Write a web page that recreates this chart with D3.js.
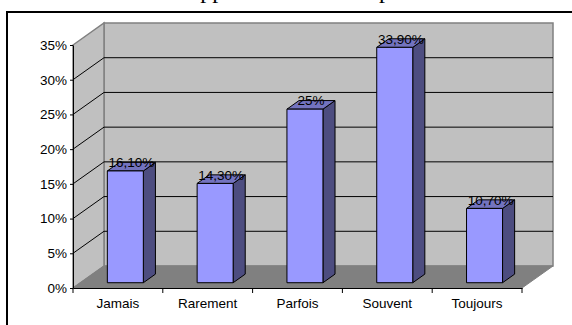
<!DOCTYPE html>
<html>
<head>
<script src="https://d3js.org/d3.v7.min.js"></script>
<style>
  body { margin: 0; background: #fff; }
  text { font-family: Arial, "Liberation Sans", sans-serif; }
</style>
</head>
<body>
<div id="chart"></div>
<script>
// data
var categories = ["Jamais", "Rarement", "Parfois", "Souvent", "Toujours"];
var values = [16.1, 14.3, 25, 33.9, 10.7];
var valueLabels = ["16,10%", "14,30%", "25%", "33,90%", "10,70%"];
var yTicks = [0, 5, 10, 15, 20, 25, 30, 35];

var W = 572, H = 325;
var plotLeft = 73, plotRight = 522, plotBottom = 288, plotTop = 45;
var depthX = 31, depthY = -22;   // full depth of the 3d box

var svg = d3.select("#chart").append("svg")
    .attr("width", W).attr("height", H);

var x = d3.scaleBand().domain(categories).range([plotLeft, plotRight]);
var y = d3.scaleLinear().domain([0, 35]).range([plotBottom, plotTop]);

// project a point on the front plane back by z (0..1)
function P(px, py, z) { return [px + z * depthX, py + z * depthY]; }
function poly(pts) { return pts.map(function(p) { return p.join(","); }).join(" "); }

// title (cut off at top of the page)
svg.append("text")
    .attr("x", 297).attr("y", -2)
    .attr("text-anchor", "middle")
    .style("font-family", '"Liberation Serif", "Times New Roman", serif')
    .style("font-size", "24px")
    .text("Apparition des crampes");

// chart frame
svg.append("rect")
    .attr("x", 7).attr("y", 12)
    .attr("width", 620).attr("height", 400)
    .attr("fill", "none").attr("stroke", "#000").attr("stroke-width", 2);

// back wall
svg.append("polygon")
    .attr("points", poly([P(plotLeft, plotTop, 1), P(plotRight, plotTop, 1), P(plotRight, plotBottom, 1), P(plotLeft, plotBottom, 1)]))
    .attr("fill", "#c0c0c0").attr("stroke", "#808080").attr("stroke-width", 1.5);

// left wall
svg.append("polygon")
    .attr("points", poly([[plotLeft, plotTop], P(plotLeft, plotTop, 1), P(plotLeft, plotBottom, 1), [plotLeft, plotBottom]]))
    .attr("fill", "#c0c0c0").attr("stroke", "#808080").attr("stroke-width", 1.5);

// floor
svg.append("polygon")
    .attr("points", poly([[plotLeft, plotBottom], [plotRight, plotBottom], P(plotRight, plotBottom, 1), P(plotLeft, plotBottom, 1)]))
    .attr("fill", "#808080").attr("stroke", "#808080").attr("stroke-width", 1);

// gridlines
var grid = yTicks.filter(function(t) { return t > 0 && t < 35; });
grid.forEach(function(t) {
  var a = [plotLeft, y(t)], b = P(plotLeft, y(t), 1), c = P(plotRight, y(t), 1);
  svg.append("polyline")
      .attr("points", poly([a, b, c]))
      .attr("fill", "none").attr("stroke", "#000").attr("stroke-width", 1);
});

// bars
var z0 = 0.24, z1 = 0.63, barW = 36;
categories.forEach(function(cat, i) {
  var cx = x(cat) + x.bandwidth() / 2;
  var x0 = cx - barW / 2, x1 = cx + barW / 2;
  var yt = y(values[i]), yb = y(0);
  var g = svg.append("g");
  g.append("polygon")
      .attr("points", poly([P(x1, yt, z0), P(x1, yt, z1), P(x1, yb, z1), P(x1, yb, z0)]))
      .attr("fill", "#4d4d80").attr("stroke", "#000").attr("stroke-width", 1);
  g.append("polygon")
      .attr("points", poly([P(x0, yt, z0), P(x1, yt, z0), P(x1, yt, z1), P(x0, yt, z1)]))
      .attr("fill", "#7373bf").attr("stroke", "#000").attr("stroke-width", 1);
  g.append("polygon")
      .attr("points", poly([P(x0, yt, z0), P(x1, yt, z0), P(x1, yb, z0), P(x0, yb, z0)]))
      .attr("fill", "#9999ff").attr("stroke", "#000").attr("stroke-width", 1);
  var lp = P(cx, yt, (z0 + z1) / 2);
  g.append("text")
      .attr("x", lp[0]).attr("y", lp[1] + 0.5)
      .attr("text-anchor", "middle")
      .style("font-size", "13.5px")
      .text(valueLabels[i]);
});

// y axis
var yAxis = svg.append("g")
    .attr("transform", "translate(" + plotLeft + ",0)")
    .call(d3.axisLeft(y).tickValues(yTicks).tickSize(3).tickSizeOuter(0)
      .tickFormat(function(d) { return d + "%"; }));
yAxis.selectAll("text").style("font-size", "13.5px").attr("x", -6).attr("fill", "#000")
    .style("font-family", 'Arial, "Liberation Sans", sans-serif');
yAxis.select(".domain").attr("stroke", "#000");

// x axis
var xAxis = svg.append("g")
    .attr("transform", "translate(0," + plotBottom + ")")
    .call(d3.axisBottom(x).tickSize(0).tickSizeOuter(0));
xAxis.select(".domain").attr("stroke", "#000");
xAxis.selectAll("text").style("font-size", "13.5px").attr("y", 10).attr("fill", "#000")
    .style("font-family", 'Arial, "Liberation Sans", sans-serif');
var bounds = categories.map(function(c) { return x(c); }).concat([plotRight]);
xAxis.selectAll(".bound").data(bounds).enter().append("line")
    .attr("class", "bound")
    .attr("x1", function(d) { return d; }).attr("x2", function(d) { return d; })
    .attr("y1", 0).attr("y2", 5)
    .attr("stroke", "#000");
</script>
</body>
</html>
